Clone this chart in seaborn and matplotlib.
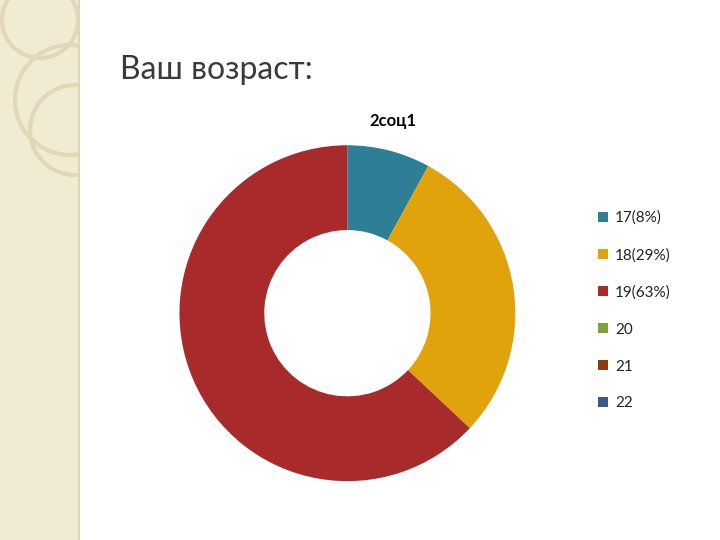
import matplotlib
matplotlib.use('Agg')
import matplotlib.pyplot as plt
import seaborn as sns
from matplotlib.patches import Rectangle, Circle, Patch

sns.set_theme(style="white")
plt.rcParams['font.family'] = ['Lato', 'DejaVu Sans']

labels = ['17(8%)', '18(29%)', '19(63%)', '20', '21', '22']
values = [8, 29, 63, 0, 0, 0]
colors = sns.color_palette(['#2E7F96', '#E0A30C', '#A82A2A', '#7EA33A', '#8E3B12', '#3B5886'])

fig = plt.figure(figsize=(7.2, 5.4), dpi=100)
fig.patch.set_facecolor('white')

# left decorative strip
deco = fig.add_axes([0, 0, 1, 1], facecolor='none')
deco.set_xlim(0, 720)
deco.set_ylim(540, 0)
deco.axis('off')
strip = Rectangle((0, 0), 78, 540, facecolor='#F2EBD3', edgecolor='none')
deco.add_patch(strip)
deco.axvline(78.5, color='#D8CDAA', lw=1.2)
for cx, cy, r in [(40, 20, 38), (75, 130, 45), (70, 100, 55)]:
    c = Circle((cx, cy), r, fill=False, edgecolor='#E2D8B8', lw=3)
    deco.add_patch(c)
    c.set_clip_path(strip)

fig.text(120 / 720, 1 - 70 / 540, 'Ваш возраст:', fontsize=23, color='#3A3A3A',
         va='center', ha='left')
fig.text(393 / 720, 1 - 121 / 540, '2соц1', fontsize=12, fontweight='bold',
         color='black', va='center', ha='center')

ax = fig.add_axes([0.249, 0.109, 0.467, 0.622])
ax.pie(values[:3], colors=colors[:3], startangle=90, counterclock=False,
       wedgeprops=dict(width=0.505, edgecolor='white', linewidth=0))
ax.set_xlim(-1, 1)
ax.set_ylim(-1, 1)
ax.set_aspect('equal')

handles = [Patch(facecolor=c, edgecolor='none') for c in colors]
fig.legend(handles, labels, loc='upper left', bbox_to_anchor=(0.812, 0.635),
           frameon=False, fontsize=11, handlelength=0.6, handleheight=0.6,
           labelspacing=1.5, handletextpad=0.5, labelcolor='#222222')

fig.savefig('out.png', dpi=100)
